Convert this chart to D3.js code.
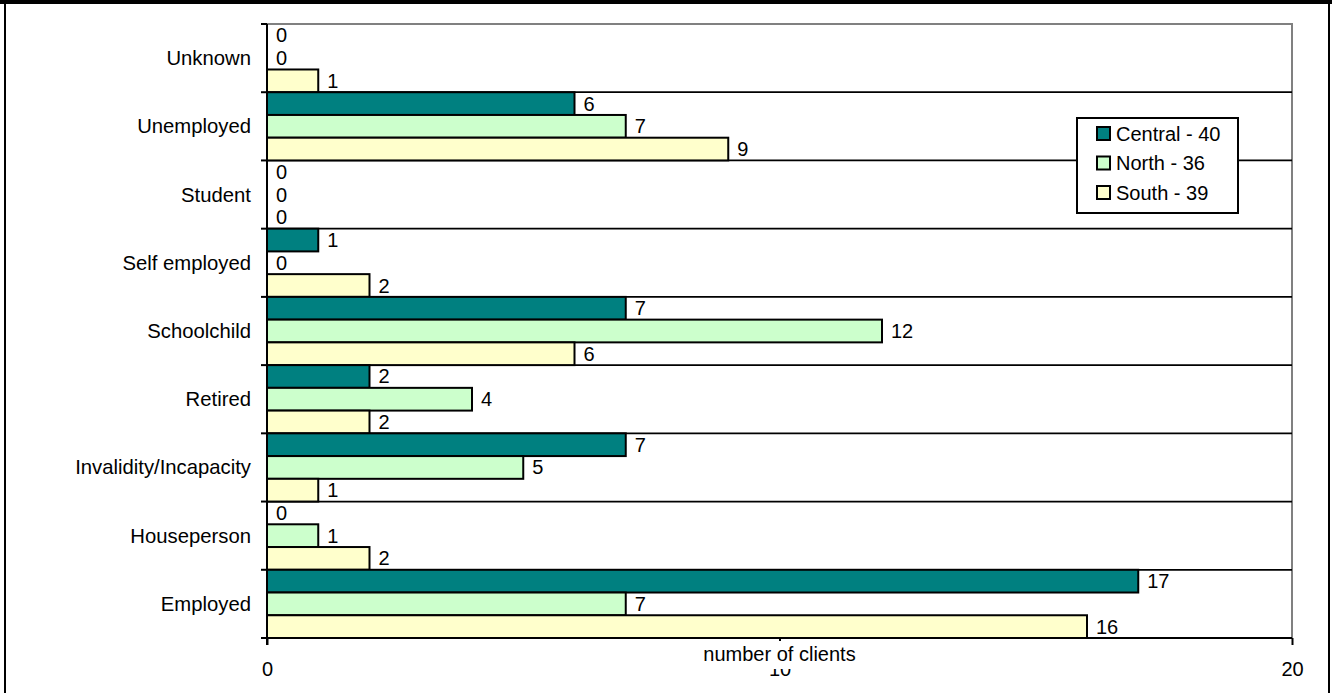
<!DOCTYPE html>
<html>
<head>
<meta charset="utf-8">
<script src="https://cdn.jsdelivr.net/npm/d3@7"></script>
<style>
  html, body { margin: 0; padding: 0; background: #fff; }
  svg { display: block; }
  text { font-family: "Liberation Sans", Arial, sans-serif; fill: #000; }
</style>
</head>
<body>
<svg id="chart" width="1332" height="693"></svg>
<script>
// Clients by employment status, per region
const categories = ["Unknown", "Unemployed", "Student", "Self employed", "Schoolchild",
                    "Retired", "Invalidity/Incapacity", "Houseperson", "Employed"];
const seriesNames = ["Central", "North", "South"];
const central = [0, 6, 0, 1, 7, 2, 7, 0, 17];
const north   = [0, 7, 0, 0, 12, 4, 5, 1, 7];
const south   = [1, 9, 0, 2, 6, 2, 1, 2, 16];
const xTicks  = [0, 10, 20];
const axisTitle = "number of clients";

const seriesValues = [central, north, south];
const colors = ["#008080", "#CCFFCC", "#FFFFCC"];

const W = 1332, H = 693;
const plot = { left: 267, right: 1292, top: 24, bottom: 638 };

const svg = d3.select("#chart");

// outer frame
svg.append("rect").attr("x", 0).attr("y", 0).attr("width", W).attr("height", 4).attr("fill", "#000");
svg.append("line").attr("x1", 5).attr("x2", 5).attr("y1", 0).attr("y2", H).attr("stroke", "#000").attr("stroke-width", 2);
svg.append("line").attr("x1", 1329).attr("x2", 1329).attr("y1", 0).attr("y2", H).attr("stroke", "#000").attr("stroke-width", 2);

const x = d3.scaleLinear().domain([0, 20]).range([plot.left, plot.right]);
const y = d3.scaleBand().domain(categories).range([plot.top, plot.bottom]).padding(0);
const ySub = d3.scaleBand().domain(seriesNames).range([0, y.bandwidth()]).padding(0);

// plot area border (grey, top and right)
svg.append("path")
  .attr("d", `M${plot.left},${plot.top}H${plot.right}V${plot.bottom}`)
  .attr("fill", "none").attr("stroke", "#808080").attr("stroke-width", 2);

// category separators
const boundaries = categories.slice(1).map(c => y(c));
svg.append("g").selectAll("line").data(boundaries).join("line")
  .attr("x1", plot.left).attr("x2", plot.right)
  .attr("y1", d => d).attr("y2", d => d)
  .attr("stroke", "#000").attr("stroke-width", 1.8);

// bars
const rows = categories.flatMap((c, i) =>
  seriesNames.map((s, j) => ({ cat: c, series: s, value: seriesValues[j][i], color: colors[j] })));

svg.append("g").selectAll("rect").data(rows.filter(d => d.value > 0)).join("rect")
  .attr("x", x(0))
  .attr("y", d => y(d.cat) + ySub(d.series))
  .attr("width", d => x(d.value) - x(0))
  .attr("height", ySub.bandwidth())
  .attr("fill", d => d.color)
  .attr("stroke", "#000").attr("stroke-width", 2);

// value labels
svg.append("g").selectAll("text").data(rows).join("text")
  .attr("x", d => x(d.value) + 9)
  .attr("y", d => y(d.cat) + ySub(d.series) + ySub.bandwidth() / 2 + 7)
  .attr("font-size", 20)
  .text(d => d.value);

// y axis: category labels and boundary ticks
const yAxis = svg.append("g");
yAxis.append("line").attr("x1", plot.left).attr("x2", plot.left)
  .attr("y1", plot.top).attr("y2", plot.bottom + 7)
  .attr("stroke", "#000").attr("stroke-width", 2);
yAxis.selectAll("line.tick").data([plot.top, ...boundaries, plot.bottom]).join("line")
  .attr("class", "tick")
  .attr("x1", plot.left - 6).attr("x2", plot.left)
  .attr("y1", d => d).attr("y2", d => d)
  .attr("stroke", "#000").attr("stroke-width", 2);
yAxis.selectAll("text").data(categories).join("text")
  .attr("x", plot.left - 16)
  .attr("y", d => y(d) + y.bandwidth() / 2 + 7)
  .attr("text-anchor", "end")
  .attr("font-size", 20.3)
  .text(d => d);

// x axis
const xAxis = svg.append("g").attr("transform", `translate(0,${plot.bottom})`)
  .call(d3.axisBottom(x).tickValues(xTicks).tickSize(7).tickPadding(0).tickFormat(d3.format("d")));
xAxis.select(".domain").remove();
xAxis.selectAll(".tick line").attr("stroke", "#000").attr("stroke-width", 2);
xAxis.selectAll(".tick text")
  .attr("y", 38).attr("dy", null)
  .attr("font-size", 20)
  .attr("font-family", "Liberation Sans, Arial, sans-serif")
  .attr("fill", "#000");
svg.append("line").attr("x1", plot.left - 6).attr("x2", plot.right)
  .attr("y1", plot.bottom).attr("y2", plot.bottom)
  .attr("stroke", "#000").attr("stroke-width", 2);

// axis title on white backing (it sits over the middle tick label)
const title = svg.append("g");
const titleBg = title.append("rect").attr("fill", "#fff");
const titleText = title.append("text")
  .attr("x", (plot.left + plot.right) / 2)
  .attr("y", 661)
  .attr("text-anchor", "middle")
  .attr("font-size", 20)
  .text(axisTitle);
const tb = titleText.node().getBBox();
titleBg.attr("x", tb.x - 3).attr("y", tb.y - 2).attr("width", tb.width + 6).attr("height", 669 - (tb.y - 2));

// legend
const legend = svg.append("g").attr("transform", "translate(1077,118)");
legend.append("rect").attr("width", 161).attr("height", 95)
  .attr("fill", "#fff").attr("stroke", "#000").attr("stroke-width", 2);
const items = legend.selectAll("g").data(seriesNames).join("g")
  .attr("transform", (d, i) => `translate(20,${15.5 + i * 29.5})`);
items.append("rect").attr("x", 0).attr("y", -6.5).attr("width", 13).attr("height", 13)
  .attr("fill", (d, i) => colors[i]).attr("stroke", "#000").attr("stroke-width", 2);
items.append("text").attr("x", 19).attr("y", 7).attr("font-size", 20)
  .text((d, i) => `${d} - ${d3.sum(seriesValues[i])}`);
</script>
</body>
</html>
